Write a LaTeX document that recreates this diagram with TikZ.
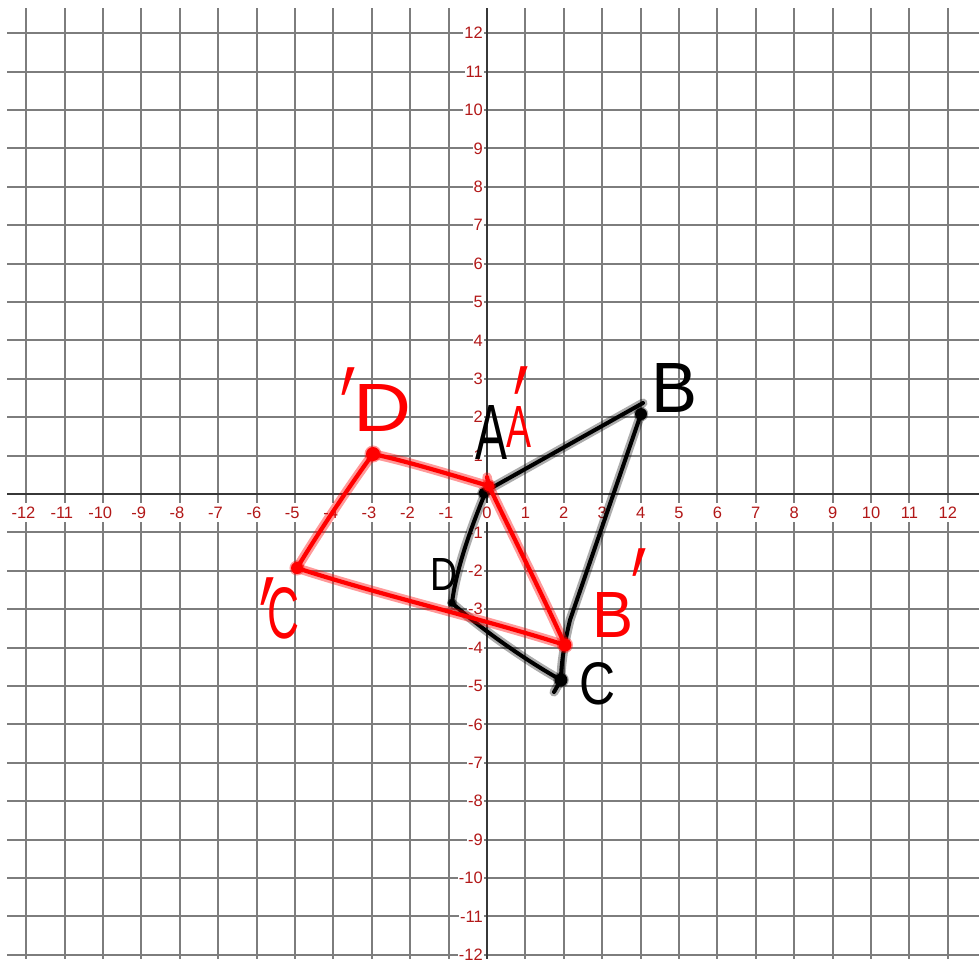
\documentclass[tikz,border=0pt]{standalone}
\usepackage{fontspec}
\setmainfont{Liberation Sans}
\newfontfamily\primefont{DejaVu Sans}
\definecolor{gridc}{RGB}{125,125,125}
\definecolor{axisc}{RGB}{55,55,55}
\definecolor{labc}{RGB}{178,24,24}
\definecolor{penred}{RGB}{255,0,0}
\newcommand\hwletter[3]{\resizebox{#1pt}{#2pt}{#3}}
\newcommand\hwprime[1]{\scalebox{0.9}[#1]{\primefont\fontsize{80}{80}\selectfont ′}}
\begin{document}
\begin{tikzpicture}[x=1pt,y=-1pt,
  gridline/.style={draw=gridc, line width=1.9pt},
  axisline/.style={draw=axisc, line width=2.6pt},
  ticklab/.style={text=labc, fill=white, inner xsep=1pt, inner ysep=3.5pt, font=\fontsize{16.5}{17}\selectfont},
  blackpen/.style={draw=black, line width=4pt, line cap=round, line join=round,
    preaction={draw=black, draw opacity=0.33, line width=9pt, line cap=round, line join=round}},
  redpen/.style={draw=penred, line width=4.2pt, line cap=round, line join=round,
    preaction={draw=penred, draw opacity=0.4, line width=9.5pt, line cap=round, line join=round}},
  blackdot/.style={fill=black, draw=black, draw opacity=0.35, line width=2.5pt},
  reddot/.style={fill=penred, draw=penred, draw opacity=0.4, line width=3pt},
  hwblack/.style={inner sep=0pt, text=black},
  hwred/.style={inner sep=0pt, text=penred},
]
\useasboundingbox (0,0) rectangle (979,959);
\fill[white] (0,0) rectangle (979,959);
% grid
\foreach \i in {-12,...,12} {
  \draw[gridline] ({487+38.4*\i},8) -- ({487+38.4*\i},959);
  \draw[gridline] (7,{494-38.4*\i}) -- (979,{494-38.4*\i});
}
\draw[axisline] (7,494) -- (979,494);
\draw[axisline] (487,8) -- (487,959);
% tick labels
\foreach \i in {1,...,12} {
  \node[ticklab] (xlp\i) at ({487+38.4*\i},512.5) {\i};
  \node[ticklab] (xlm\i) at ({487-38.4*\i},512.5) {\llap{-}\i};
  \node[ticklab, anchor=east] (ylp\i) at (484,{494-38.4*\i}) {\i};
  \node[ticklab, anchor=east] (ylm\i) at (484,{494+38.4*\i}) {-\i};
}
\node[ticklab] (xl0) at (487,512.5) {0};
% vertices
\coordinate (A) at (486,491);
\coordinate (B) at (641,414);
\coordinate (C) at (561,680);
\coordinate (D) at (452,603);
\coordinate (Bend) at (643,403);
\coordinate (Cend) at (554,692);
\coordinate (Ap) at (489,486);
\coordinate (Bp) at (565,645);
\coordinate (Cp) at (297,568);
\coordinate (Dp) at (373,454);
\coordinate (Aptop) at (487,477);
% black quadrilateral
\draw[blackpen] (A) -- (Bend);
\draw[blackpen] (B) -- (570,620) .. controls (564,645) and (561,665) .. (C) -- (Cend);
\draw[blackpen] (C) .. controls (525,660) and (480,628) .. (D);
\draw[blackpen] (D) .. controls (456,570) and (470,530) .. (A);
\fill[blackdot] (B) circle (6);
\fill[blackdot] (C) circle (6.5);
\fill[blackdot] (484,493) circle (5.5);
\fill[blackdot] (D) circle (3.5);
% red quadrilateral
\draw[redpen] (Ap) .. controls (455,476) and (410,462) .. (Dp);
\draw[redpen] (Dp) .. controls (355,478) and (320,530) .. (Cp);
\draw[redpen] (Cp) .. controls (380,595) and (480,618) .. (Bp);
\draw[redpen] (Bp) .. controls (545,600) and (505,520) .. (Ap) -- (Aptop);
\fill[reddot] (Dp) circle (7);
\fill[reddot] (Cp) circle (6);
\fill[reddot] (Bp) circle (6.5);
\fill[reddot] (Ap) circle (5.5);
% black labels
\node[hwblack] (labA) at (491,432) {\hwletter{32}{54}{A}};
\node[hwblack] (labB) at (674,388) {\hwletter{46}{49}{B}};
\node[hwblack] (labC) at (597,684) {\hwletter{36}{42}{C}};
\node[hwblack] (labD) at (444,574) {\hwletter{27}{32}{D}};
% red labels
\node[hwred] (labAp) at (519,427) {\hwletter{25}{41}{A}};
\node[hwred, anchor=north] (labApprime) at (522,366) {\hwprime{1.9}};
\node[hwred] (labBp) at (613,615) {\hwletter{41}{45}{B}};
\node[hwred, anchor=north] (labBpprime) at (640,548) {\hwprime{1.9}};
\node[hwred] (labCp) at (284,613) {\hwletter{32}{51}{C}};
\node[hwred, anchor=north] (labCpprime) at (268,577) {\hwprime{1.9}};
\node[hwred] (labDp) at (383,408) {\hwletter{58}{47}{D}};
\node[hwred, anchor=north] (labDpprime) at (349,367) {\hwprime{1.9}};
\end{tikzpicture}
\end{document}
